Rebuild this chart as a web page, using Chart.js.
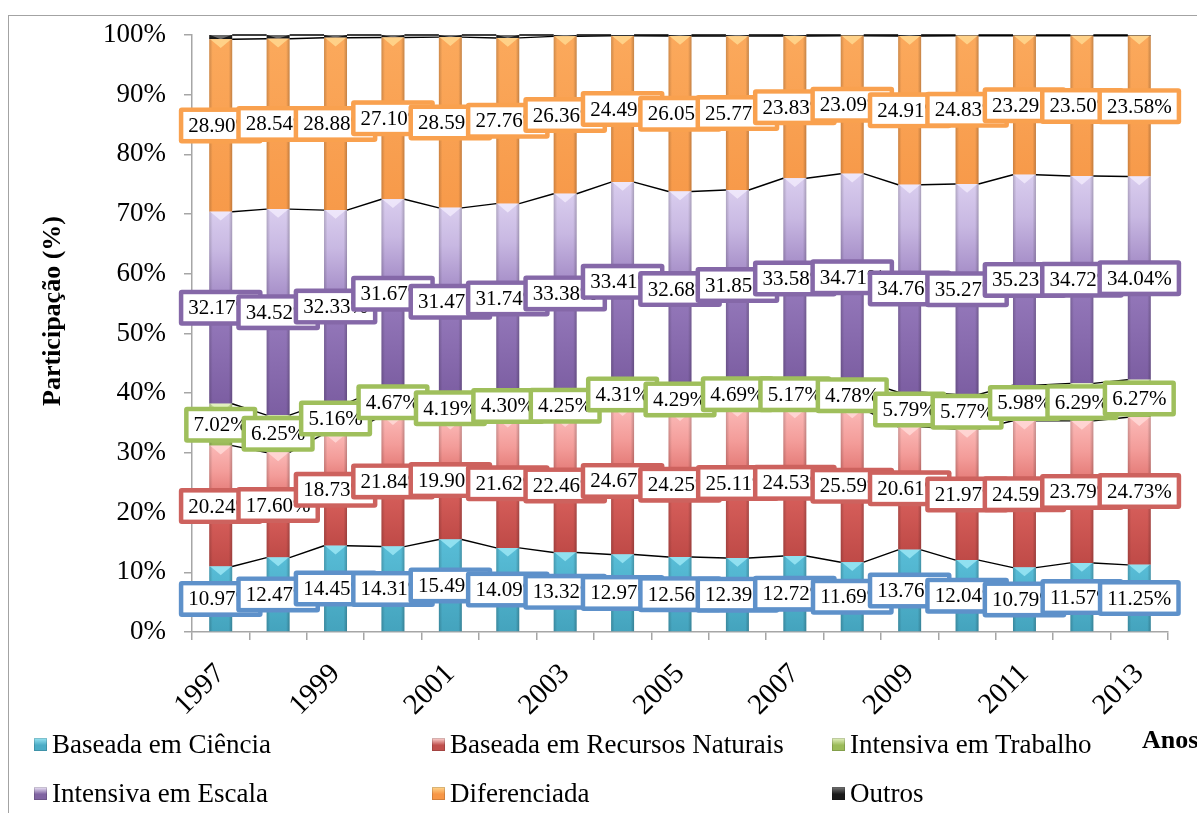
<!DOCTYPE html>
<html lang="pt">
<head>
<meta charset="utf-8">
<title>Participação por intensidade tecnológica</title>
<script src="https://cdn.jsdelivr.net/npm/chart.js@4.4.1/dist/chart.umd.min.js"></script>
<style>
  html, body { margin: 0; padding: 0; background: #fff; overflow: hidden; }
  #wrap { position: relative; width: 1197px; height: 813px; overflow: hidden; }
  #frame { position: absolute; left: 8px; top: 15px; width: 1400px; height: 1000px;
           border: 1.5px solid #a3a3a3; box-sizing: border-box; }
  #chart { position: absolute; left: 0; top: 0; }
  #legend { position: absolute; left: 34px; top: 720px; display: grid;
            grid-template-columns: 398px 400px 300px; grid-auto-rows: 49px;
            font-family: "Liberation Serif", serif; font-size: 27px; color: #000; }
  .item { display: flex; align-items: center; white-space: nowrap; }
  .swatch { width: 13px; height: 13px; margin-right: 5px; box-shadow: inset 0 0 0 1px rgba(0,0,0,0.15); }
  #anos { position: absolute; left: 1142px; top: 725px; font: bold 26px "Liberation Serif", serif; white-space: nowrap; }
</style>
</head>
<body>
<div id="wrap">
  <div id="frame"></div>
  <canvas id="chart" width="1197" height="813"></canvas>
  <div id="legend"></div>
  <div id="anos">Anos</div>
</div>
<script>
const years = ['1997', '1998', '1999', '2000', '2001', '2002', '2003', '2004', '2005',
  '2006', '2007', '2008', '2009', '2010', '2011', '2012', '2013'];

const seriesNames = ['Baseada em Ciência', 'Baseada em Recursos Naturais', 'Intensiva em Trabalho',
  'Intensiva em Escala', 'Diferenciada', 'Outros'];

const cienciaVals = [10.97, 12.47, 14.45, 14.31, 15.49, 14.09, 13.32, 12.97, 12.56,
  12.39, 12.72, 11.69, 13.76, 12.04, 10.79, 11.57, 11.25];
const recursosVals = [20.24, 17.60, 18.73, 21.84, 19.90, 21.62, 22.46, 24.67, 24.25,
  25.11, 24.53, 25.59, 20.61, 21.97, 24.59, 23.79, 24.73];
const trabalhoVals = [7.02, 6.25, 5.16, 4.67, 4.19, 4.30, 4.25, 4.31, 4.29,
  4.69, 5.17, 4.78, 5.79, 5.77, 5.98, 6.29, 6.27];
const escalaVals = [32.17, 34.52, 32.33, 31.67, 31.47, 31.74, 33.38, 33.41, 32.68,
  31.85, 33.58, 34.71, 34.76, 35.27, 35.23, 34.72, 34.04];
const diferenciadaVals = [28.90, 28.54, 28.88, 27.10, 28.59, 27.76, 26.36, 24.49, 26.05,
  25.77, 23.83, 23.09, 24.91, 24.83, 23.29, 23.50, 23.58];
const outrosVals = [0.70, 0.62, 0.45, 0.41, 0.36, 0.49, 0.23, 0.15, 0.17,
  0.19, 0.17, 0.14, 0.17, 0.12, 0.12, 0.13, 0.13];

const yTicks = [0, 10, 20, 30, 40, 50, 60, 70, 80, 90, 100];

// vertical colour stops for each segment, bottom (0) to top (1)
const fills = [
  [[0, '#44a3bd'], [1, '#58bdd7']],
  [[0, '#bf4a47'], [0.45, '#d8605c'], [0.78, '#f39c99'], [1, '#fbb9b7']],
  [[0, '#98b856'], [1, '#c8dd9c']],
  [[0, '#7c5ea2'], [0.45, '#9478ba'], [0.8, '#c8b8e2'], [1, '#d9cdee']],
  [[0, '#f79a4a'], [1, '#fba95c']],
  [[0, '#111111'], [1, '#2a2a2a']]
];
const swatchColors = ['#4bacc6', '#c0504d', '#9bbb59', '#8064a2', '#f79646', '#1a1a1a'];
const bevelColors = ['#9ae6f4', '#ffd9d7', '#e6f3c4', '#f1eafb', '#ffd88f', '#777777'];
const labelBorders = ['#5e91ca', '#cd625e', '#9fbf5c', '#8568a8', '#f9a14f'];

function segmentFill(ctx, stops) {
  const chart = ctx.chart;
  const y = chart.scales.y;
  if (ctx.type !== 'data' || !y || !chart.chartArea) return stops[0][1];
  const i = ctx.dataIndex;
  let base = 0;
  for (let k = 0; k < ctx.datasetIndex; k++) base += chart.data.datasets[k].data[i];
  const top = base + chart.data.datasets[ctx.datasetIndex].data[i];
  const g = chart.ctx.createLinearGradient(0, y.getPixelForValue(base), 0, y.getPixelForValue(top));
  stops.forEach(([o, c]) => g.addColorStop(o, c));
  return g;
}

const allVals = [cienciaVals, recursosVals, trabalhoVals, escalaVals, diferenciadaVals, outrosVals];

const datasets = allVals.map((vals, n) => ({
  label: seriesNames[n],
  data: vals,
  backgroundColor: ctx => segmentFill(ctx, fills[n]),
  borderWidth: 0,
  barPercentage: 0.4,
  categoryPercentage: 1
}));

// shaded sides and the light triangle at the top of every segment
const bevel = {
  id: 'bevel',
  afterDatasetDraw(chart, args) {
    const ctx = chart.ctx;
    const n = args.index;
    ctx.save();
    args.meta.data.forEach(bar => {
      const left = bar.x - bar.width / 2;
      const top = Math.min(bar.y, bar.base);
      const h = Math.abs(bar.base - bar.y);
      if (h < 1) return;
      const side = ctx.createLinearGradient(left, 0, left + bar.width, 0);
      side.addColorStop(0, 'rgba(0,0,0,0.18)');
      side.addColorStop(0.15, 'rgba(0,0,0,0)');
      side.addColorStop(0.85, 'rgba(0,0,0,0)');
      side.addColorStop(1, 'rgba(0,0,0,0.22)');
      ctx.fillStyle = side;
      ctx.fillRect(left, top, bar.width, h);
      const th = Math.min(bar.width * 0.38, h);
      ctx.fillStyle = bevelColors[n];
      ctx.globalAlpha = 0.85;
      ctx.beginPath();
      ctx.moveTo(left + 1, top);
      ctx.lineTo(left + bar.width - 1, top);
      ctx.lineTo(bar.x, top + th);
      ctx.closePath();
      ctx.fill();
      ctx.globalAlpha = 1;
    });
    ctx.restore();
  }
};

// thin black lines joining the top of each series between the bars
const seriesLines = {
  id: 'seriesLines',
  afterDatasetsDraw(chart) {
    const ctx = chart.ctx;
    ctx.save();
    ctx.strokeStyle = '#000';
    ctx.lineWidth = 1.4;
    chart.data.datasets.forEach((ds, di) => {
      const bars = chart.getDatasetMeta(di).data;
      ctx.beginPath();
      for (let i = 0; i < bars.length - 1; i++) {
        const a = bars[i], b = bars[i + 1];
        ctx.moveTo(a.x + a.width / 2, a.y);
        ctx.lineTo(b.x - b.width / 2, b.y);
      }
      ctx.stroke();
    });
    ctx.restore();
  }
};

// value boxes with a coloured frame, centred on each segment
const valueBoxes = {
  id: 'valueBoxes',
  afterDatasetsDraw(chart) {
    const ctx = chart.ctx;
    ctx.save();
    ctx.font = '21px "Liberation Serif", serif';
    ctx.textAlign = 'center';
    ctx.textBaseline = 'middle';
    for (let di = 0; di < 5; di++) {
      const bars = chart.getDatasetMeta(di).data;
      const vals = chart.data.datasets[di].data;
      bars.forEach((bar, i) => {
        const text = vals[i].toFixed(2) + '%';
        const w = ctx.measureText(text).width + 10;
        const h = 27;
        const b = 4.5;
        const cy = (bar.y + bar.base) / 2;
        const x0 = bar.x - w / 2, y0 = cy - h / 2;
        ctx.fillStyle = labelBorders[di];
        ctx.beginPath();
        ctx.roundRect(x0 - b, y0 - b, w + 2 * b, h + 2 * b, 3);
        ctx.fill();
        ctx.fillStyle = '#fff';
        ctx.fillRect(x0, y0, w, h);
        ctx.fillStyle = '#000';
        ctx.fillText(text, bar.x, cy + 1);
      });
    }
    ctx.restore();
  }
};

// vertical axis title, set a little above the middle of the plot
const yTitle = {
  id: 'yTitle',
  afterDraw(chart) {
    const ctx = chart.ctx;
    ctx.save();
    ctx.translate(53, 311);
    ctx.rotate(-Math.PI / 2);
    ctx.font = 'bold 26px "Liberation Serif", serif';
    ctx.fillStyle = '#000';
    ctx.textAlign = 'center';
    ctx.textBaseline = 'middle';
    ctx.fillText('Participação (%)', 0, 0);
    ctx.restore();
  }
};

const chart = new Chart(document.getElementById('chart'), {
  type: 'bar',
  data: { labels: years, datasets: datasets },
  options: {
    responsive: false,
    devicePixelRatio: 1,
    animation: false,
    layout: { padding: { left: 0, top: 35, right: 29, bottom: 0 } },
    plugins: {
      legend: { display: false },
      tooltip: { enabled: false }
    },
    scales: {
      x: {
        stacked: true,
        afterFit: scale => { scale.height = 181; },
        border: { color: '#a6a6a6', width: 1.5 },
        grid: { offset: true, drawOnChartArea: false, drawTicks: true, tickLength: 8, color: '#a6a6a6', lineWidth: 1.5 },
        ticks: {
          autoSkip: false,
          minRotation: 45,
          maxRotation: 45,
          padding: 17,
          color: '#000',
          font: { family: '"Liberation Serif", serif', size: 29 },
          callback: (v, i) => (i % 2 === 0 ? years[i] : '')
        }
      },
      y: {
        stacked: true,
        min: 0,
        max: 100,
        afterFit: scale => { scale.width = 192; },
        afterBuildTicks: scale => { scale.ticks = yTicks.map(v => ({ value: v })); },
        border: { color: '#a6a6a6', width: 1.5 },
        grid: { drawOnChartArea: false, drawTicks: true, tickLength: 8, color: '#a6a6a6', lineWidth: 1.5 },
        ticks: {
          padding: 18,
          color: '#000',
          font: { family: '"Liberation Serif", serif', size: 27 },
          callback: v => v + '%'
        }
      }
    }
  },
  plugins: [bevel, seriesLines, valueBoxes, yTitle]
});

function renderLegend() {
  const wrapper = document.getElementById('legend');
  wrapper.innerHTML = chart.data.datasets.map((ds, n) => {
    const c = swatchColors[n];
    return '<div class="item"><span class="swatch" style="background: linear-gradient(' +
      bevelColors[n] + ' 0%, ' + c + ' 55%)"></span>' + ds.label + '</div>';
  }).join('');
}
renderLegend();
</script>
</body>
</html>
